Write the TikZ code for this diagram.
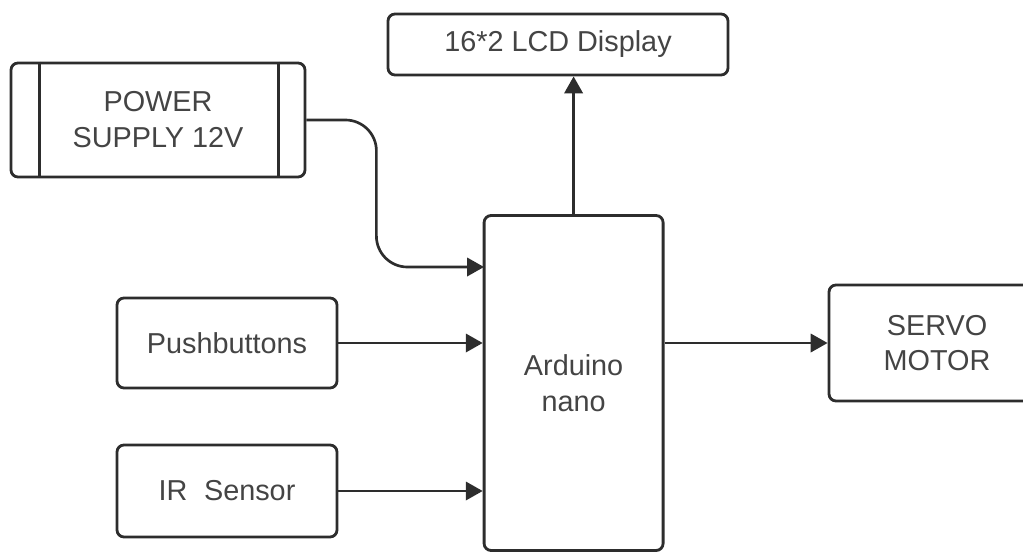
\documentclass[tikz,border=0pt]{standalone}
\usepackage{fontspec}
\setmainfont{Liberation Sans}
\usepackage{tikz}
\usetikzlibrary{arrows.meta, positioning, calc}
\definecolor{edge}{RGB}{45,45,45}
\definecolor{label}{RGB}{68,68,68}

\begin{document}
\begin{tikzpicture}[
  every node/.style={font=\fontsize{20.5}{25.5}\selectfont, text=label},
  block/.style={draw=edge, line width=2pt, rounded corners=5pt, fill=white,
                align=center, inner sep=0pt},
  link/.style={draw=edge, line width=1.9pt, -{Triangle[length=12pt, width=13pt]}},
  >=Stealth
]
\useasboundingbox (0,0) rectangle (25.575,-13.825);
\clip (0,0) rectangle (25.575,-13.825);

\node[block, minimum width=7.35cm, minimum height=2.85cm] (ps) at (3.95,-3.0)
  {POWER\\SUPPLY 12V};
\draw[edge, line width=2pt]
  ([xshift=0.75cm]ps.north west) -- ([xshift=0.75cm]ps.south west)
  ([xshift=-0.7cm]ps.north east) -- ([xshift=-0.7cm]ps.south east);

\node[block, minimum width=8.5cm, minimum height=1.525cm] (lcd) at (13.95,-1.1125)
  {16*2 LCD Display};
\node[block, minimum width=4.475cm, minimum height=8.375cm] (ard) at (14.34,-9.575)
  {Arduino\\nano};
\node[block, minimum width=5.5cm, minimum height=2.25cm] (push) at (5.675,-8.575)
  {Pushbuttons};
\node[block, minimum width=5.5cm, minimum height=2.3cm] (ir) at (5.675,-12.275)
  {IR\hspace{0.3em} Sensor};
\node[block, minimum width=5.4cm, minimum height=2.9cm] (servo) at (23.425,-8.575)
  {SERVO\\MOTOR};

% connectors
\coordinate (pin) at (12.1,-6.675);
\draw[link, rounded corners=22pt] (ps.east) -- ++(1.75,0) |- (pin);
\draw[link] (push.east) -- (push.east -| ard.west);
\draw[link] (ir.east) -- (ir.east -| ard.west);
\draw[link] (ard.north) -- (ard.north |- lcd.south);
\draw[link] (ard.east |- servo.west) -- (servo.west);

\end{tikzpicture}
\end{document}
